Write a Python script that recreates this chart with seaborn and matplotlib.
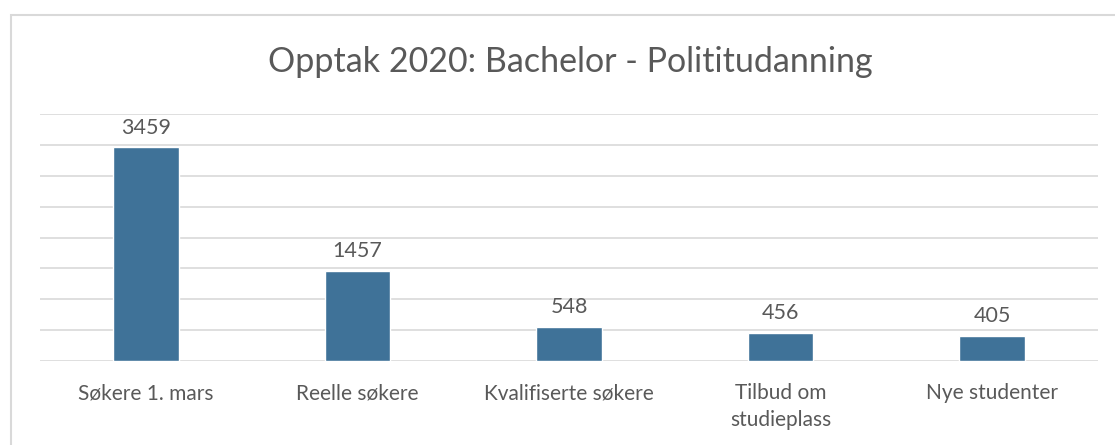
import pandas as pd
import seaborn as sns
from matplotlib import pyplot as plt
from matplotlib.patches import Rectangle

categories = ['Søkere 1. mars', 'Reelle søkere', 'Kvalifiserte søkere', 'Tilbud om\nstudieplass', 'Nye studenter']
values = [3459, 1457, 548, 456, 405]

df = pd.DataFrame({'Kategori': categories, 'Antall': values})

sns.set_style('white')
plt.rcParams['font.family'] = ['Lato', 'DejaVu Sans']
text_grey = '#595959'

fig = plt.figure(figsize=(11.15, 4.45), dpi=100, facecolor='white')
ax = fig.add_axes([40 / 1115, 1 - 361 / 445, 1058 / 1115, 247 / 445])

sns.barplot(data=df, x='Kategori', y='Antall', color='#3F7298', width=0.31,
            saturation=1, ax=ax, zorder=3)
ax.bar_label(ax.containers[0], padding=7, fontsize=15.5, color=text_grey)

ax.set_ylim(0, 4000)
ax.set_yticks(range(0, 4001, 500))
ax.yaxis.grid(True, color='#D9D9D9', linewidth=1.2)
ax.set_yticklabels([])
ax.tick_params(axis='both', length=0)
ax.tick_params(axis='x', labelsize=15, labelcolor=text_grey, pad=16)
for lbl in ax.get_xticklabels():
    lbl.set_linespacing(1.45)
ax.set_xlabel('')
ax.set_ylabel('')
for s in ax.spines.values():
    s.set_visible(False)

fig.text(570 / 1115, 1 - 62 / 445, 'Opptak 2020: Bachelor - Polititudanning',
         ha='center', va='center', fontsize=24.5, color=text_grey)

fig.patches.append(Rectangle((11 / 1115, -0.1), 1.2, (445 - 15) / 445 + 0.1,
                             transform=fig.transFigure, fill=False,
                             edgecolor='#D9D9D9', linewidth=1.5))

fig.savefig('out.png', dpi=100, facecolor='white')
